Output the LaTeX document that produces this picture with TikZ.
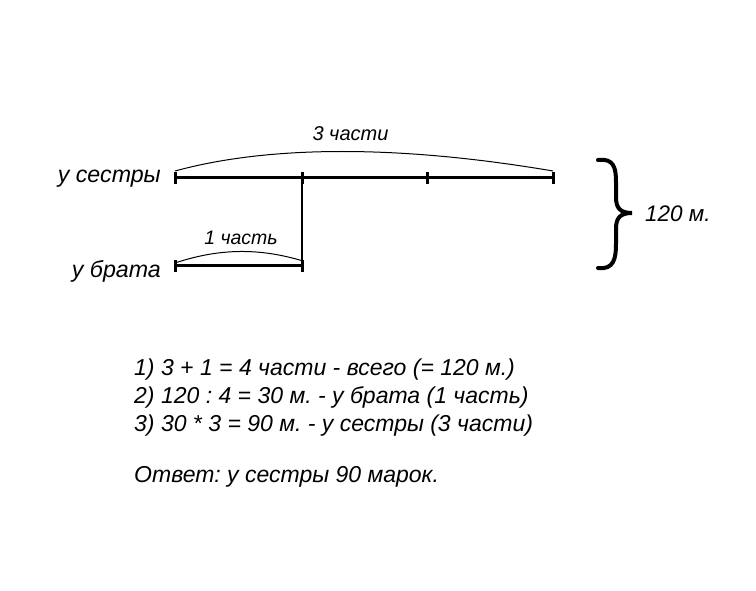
\documentclass[tikz,border=0pt]{standalone}
\usepackage{fontspec}
\setmainfont{Liberation Sans}
\frenchspacing
\begin{document}
\begin{tikzpicture}[x=1pt,y=-1pt,
  lbl/.style={inner sep=0pt,font=\fontsize{23.2}{27}\selectfont\itshape},
  small/.style={inner sep=0pt,font=\fontsize{20}{24}\selectfont\itshape},
  txt/.style={inner sep=0pt,font=\fontsize{23}{27}\selectfont\itshape},
  seg/.style={line width=3pt},
  tick/.style={line width=3pt},
  thin/.style={line width=1pt},
  brace/.style={line width=4pt,line cap=round}]
\useasboundingbox[fill=white] (0,0) rectangle (756,591);
% coordinates
\coordinate (s0) at (175,178);
\coordinate (s1) at (302,178);
\coordinate (s2) at (427,178);
\coordinate (s3) at (553,178);
\coordinate (b0) at (175,266);
\coordinate (b1) at (302,266);
% sister line
\draw[seg] (s0) -- (s3);
\foreach \p in {s0,s1,s2,s3} \draw[tick] ([yshift=-6pt]\p) -- ([yshift=6pt]\p);
% brother line
\draw[seg] (b0) -- (b1);
\foreach \p in {b0,b1} \draw[tick] ([yshift=-6pt]\p) -- ([yshift=6pt]\p);
% connector
\draw[line width=1.3pt] (s1) -- (b1);
% arcs
\coordinate (a0) at (175,171);
\coordinate (a1) at (553,171);
\draw[thin] (a0) .. controls (270,145) and (400,145) .. (a1);
\coordinate (c0) at (175,263);
\coordinate (c1) at (303,261);
\draw[thin] (c0) .. controls (220,248) and (260,248) .. (c1);
% labels
\node[small,anchor=base] (t3) at (350.5,141) {3 части};
\node[small,anchor=base,font=\fontsize{19.5}{23}\selectfont\itshape] (t1) at (241,244) {1 часть};
\node[lbl,anchor=base east] (ls) at (161,183) {у сестры};
\node[lbl,anchor=base east] (lb) at (161,277) {у брата};
% brace
\coordinate (br0) at (598,160);
\coordinate (brt) at (632,213);
\coordinate (br1) at (598,268);
\draw[brace] (br0) .. controls (614,158) and (616,168) .. (616,182)
  -- (616,197) .. controls (616,208) and (620,213) .. (brt)
  .. controls (620,213) and (616,218) .. (616,229)
  -- (616,244) .. controls (616,258) and (614,270) .. (br1);
\node[lbl,anchor=base west,font=\fontsize{22.5}{26}\selectfont\itshape] (tot) at (645,222) {120 м.};
% solution text
\node[txt,anchor=base west] (l1) at (134,375) {1) 3 + 1 = 4 части - всего (= 120 м.)};
\node[txt,anchor=base west] (l2) at (134,403) {2) 120 : 4 = 30 м. - у брата (1 часть)};
\node[txt,anchor=base west] (l3) at (134,431) {3) 30 * 3 = 90 м. - у сестры (3 части)};
\node[txt,anchor=base west] (ans) at (134,482) {Ответ: у сестры 90 марок.};
\end{tikzpicture}
\end{document}
